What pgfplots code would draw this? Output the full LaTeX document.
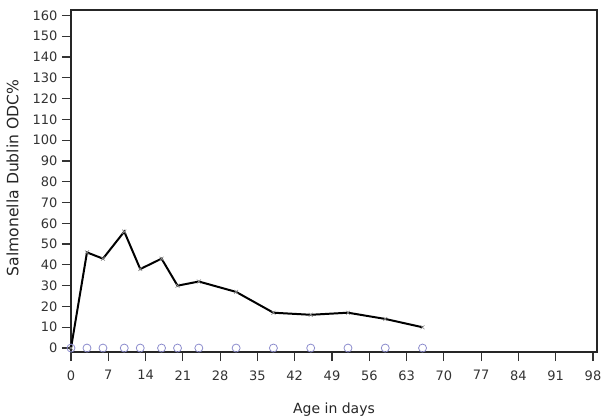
\documentclass[border=0pt]{standalone}
\usepackage{pgfplots}
\pgfplotsset{compat=1.18}
\usepackage{fontspec}
\setmainfont{DejaVu Sans}
\begin{document}
\begin{tikzpicture}
\begin{axis}[
  scale only axis,
  width=526bp, height=342bp,
  xmin=0, xmax=98.75, ymin=-1.9, ymax=162.6,
  xtick={0,7,...,98}, ytick={0,10,...,160},
  tick align=outside, major tick length=9bp,
  tick style={line width=1.2pt, color=black!80},
  axis line style={line width=1.2pt, color=black!85},
  xtick pos=bottom, ytick pos=left,
  ticklabel style={font=\fontsize{13bp}{15bp}\selectfont, text=black!80},
  xticklabel style={yshift=-6bp},
  yticklabel style={xshift=-1bp},
  /pgf/number format/assume math mode=true,
  xlabel={Age in days}, ylabel={Salmonella Dublin ODC\%},
  label style={font=\fontsize{14bp}{16bp}\selectfont, text=black!85},
  xlabel style={at={(axis description cs:0.5,0)}, anchor=base, yshift=-61bp},
  ylabel style={font=\fontsize{15.6bp}{17bp}\selectfont, at={(axis description cs:0,0.509)}, anchor=center, yshift=58.5bp},
  clip=false,
]
\addplot[line width=2pt, black, mark=x, mark size=2.8pt, mark options={black!45, line width=0.6pt}] coordinates {
(0,0) (3,46) (6,43) (10,56) (13,38) (17,43) (20,30) (24,32) (31,27) (38,17) (45,16) (52,17) (59,14) (66,10)
};
\addplot[only marks, mark=o, mark size=4bp, mark options={color={rgb,255:red,140;green,140;blue,205}, line width=0.8pt}] coordinates {
(0,0) (3,0) (6,0) (10,0) (13,0) (17,0) (20,0) (24,0) (31,0) (38,0) (45,0) (52,0) (59,0) (66,0)
};
\coordinate (sw) at (rel axis cs:0,0);
\coordinate (ne) at (rel axis cs:1,1);
\end{axis}
\pgfresetboundingbox
\path[use as bounding box] ([shift={(-71bp,-67bp)}]sw) rectangle ([shift={(5bp,10bp)}]ne);
\end{tikzpicture}
\end{document}
